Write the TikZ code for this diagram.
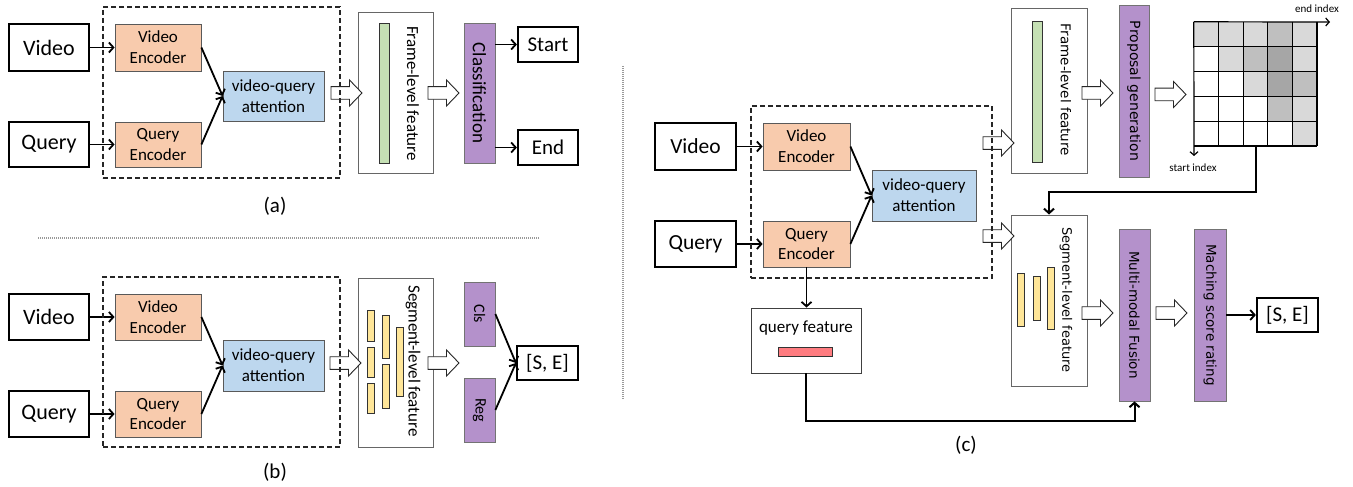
\documentclass[tikz,border=0pt]{standalone}
\usepackage{fontspec}
\setmainfont{Carlito}
\newfontfamily\dvsans{DejaVu Sans}
\usetikzlibrary{arrows.meta}
\definecolor{encfill}{HTML}{F8CBAD}
\definecolor{attfill}{HTML}{BDD7EE}
\definecolor{purpfill}{HTML}{B491CB}
\definecolor{greenfill}{HTML}{C5E0B4}
\definecolor{yellowfill}{HTML}{FFE699}
\definecolor{redfill}{HTML}{FF7C80}
\definecolor{gl}{HTML}{D9D9D9}
\definecolor{gm}{HTML}{BFBFBF}
\definecolor{gd}{HTML}{A6A6A6}
\tikzset{
  tbox/.style={draw=black, line width=2.2pt, fill=white, inner sep=0pt, font=\fontsize{22}{26}\selectfont},
  enc/.style={draw=black!65, line width=0.8pt, fill=encfill, inner sep=0pt, align=center, font=\fontsize{17}{20.7}\selectfont},
  att/.style={enc, fill=attfill},
  purp/.style={draw=black!55, line width=0.8pt, fill=purpfill, inner sep=0pt},
  feat/.style={draw=black!60, line width=1pt, fill=white, inner sep=0pt},
  bar/.style={draw=black!80, line width=0.7pt, inner sep=0pt},
  arr/.style={-{Straight Barb[length=4.5pt,width=10pt]}, line width=1.8pt},
  thinarr/.style={-{Straight Barb[length=3.5pt,width=8pt]}, line width=1.2pt},
  dbox/.style={draw=black!85, line width=1.4pt, dash pattern=on 5pt off 3pt, inner sep=0pt},
  lab/.style={font=\fontsize{21}{25}\selectfont},
  rot/.style={rotate=-90, inner sep=0pt, font=\fontsize{17}{20}\selectfont},
  rotc/.style={rotate=-90, inner sep=0pt, font=\dvsans\fontsize{13.5}{16}\selectfont},
  sep/.style={draw=black!40, line width=1.2pt, dash pattern=on 1pt off 1pt},
  harrow/.pic={\draw[fill=white, line width=0.9pt, draw=black!85] (0,-6.3) -- (18.5,-6.3) -- (18.5,-13) -- (31,0) -- (18.5,13) -- (18.5,6.3) -- (0,6.3) -- cycle;}
}
\begin{document}
\begin{tikzpicture}[x=1pt,y=-1pt]
\useasboundingbox (0,0) rectangle (1353,487);
\fill[white] (0,0) rectangle (1353,487);

% ---------- separators
\coordinate (h1) at (38,238);
\coordinate (h2) at (540,238);
\coordinate (v1) at (623,66);
\coordinate (v2) at (623,400);
\draw[sep] (h1) -- (h2);
\draw[sep] (v1) -- (v2);

% ---------- panel (a)
\node[tbox, minimum width=80, minimum height=47] (va) at (49,47.5) {Video};
\node[tbox, minimum width=80, minimum height=45] (qa) at (49,144.5) {Query};
\node[enc, minimum width=86, minimum height=47] (vea) at (158,47.5) {Video\\Encoder};
\node[enc, minimum width=86, minimum height=45] (qea) at (158,144.5) {Query\\Encoder};
\node[att, minimum width=101, minimum height=50] (ata) at (273.5,96) {video-query\\attention};
\node[feat, minimum width=75, minimum height=160] (fa) at (395.5,93) {};
\node[bar, fill=greenfill, minimum width=10, minimum height=140] (ga) at (384,93) {};
\node[rot] (fat) at (413,93.5) {Frame-level feature};
\node[purp, minimum width=31, minimum height=140] (ca) at (479.5,93) {};
\node[rot, font=\fontsize{19}{22}\selectfont] (cat) at (ca) {Classification};
\node[tbox, font=\fontsize{21}{25}\selectfont, minimum width=60, minimum height=35] (sa) at (548,44.5) {Start};
\node[tbox, font=\fontsize{21}{25}\selectfont, minimum width=60, minimum height=35] (ea) at (548,147.5) {End};
\draw[arr] (va.east) -- (vea.west);
\draw[arr] (qa.east) -- (qea.west);
\draw[arr] (vea.east) -- (ata.west);
\draw[arr] (qea.east) -- (ata.west);
\draw[arr] (sa.west -| ca.east) -- (sa.west);
\draw[arr] (ea.west -| ca.east) -- (ea.west);
\pic at (331,93) {harrow};
\pic at (428,93) {harrow};
\node[dbox, minimum width=237, minimum height=171] (da) at (221.5,92.5) {};
\node[lab] (la) at (275,206) {(a)};

% ---------- panel (b)
\node[tbox, minimum width=80, minimum height=46] (vb) at (49,317) {Video};
\node[tbox, minimum width=80, minimum height=46] (qb) at (49,414) {Query};
\node[enc, minimum width=86, minimum height=46] (veb) at (158,317) {Video\\Encoder};
\node[enc, minimum width=86, minimum height=46] (qeb) at (158,414) {Query\\Encoder};
\node[att, minimum width=101, minimum height=51] (atb) at (273.5,365.5) {video-query\\attention};
\node[feat, minimum width=75, minimum height=169] (sb) at (395.5,362.5) {};
\node[bar, fill=yellowfill, minimum width=7, minimum height=31] (yb1) at (371,325.5) {};
\node[bar, fill=yellowfill, minimum width=7, minimum height=30] (yb2) at (371,362) {};
\node[bar, fill=yellowfill, minimum width=7, minimum height=30] (yb3) at (371,398) {};
\node[bar, fill=yellowfill, minimum width=7, minimum height=43] (yb4) at (385.5,336.5) {};
\node[bar, fill=yellowfill, minimum width=7, minimum height=44] (yb5) at (385.5,386) {};
\node[bar, fill=yellowfill, minimum width=7, minimum height=69] (yb6) at (399.5,361.5) {};
\node[rot] (sbt) at (413,361) {Segment-level feature};
\node[purp, minimum width=31, minimum height=64] (clsb) at (479.5,314) {};
\node[rot, font=\fontsize{16}{19}\selectfont] (clst) at (clsb) {Cls};
\node[purp, minimum width=31, minimum height=64] (regb) at (479.5,410) {};
\node[rot, font=\fontsize{16}{19}\selectfont] (regt) at (regb) {Reg};
\node[tbox, font=\fontsize{21}{25}\selectfont, minimum width=61, minimum height=34] (seb) at (547.5,363) {[S, E]};
\draw[arr] (vb.east) -- (veb.west);
\draw[arr] (qb.east) -- (qeb.west);
\draw[arr] (veb.east) -- (atb.west);
\draw[arr] (qeb.east) -- (atb.west);
\draw[arr] (clsb.east) -- (seb.west);
\draw[arr] (regb.east) -- (seb.west);
\pic at (330,363) {harrow};
\pic at (428,363) {harrow};
\node[dbox, minimum width=237, minimum height=170] (db) at (221.5,362) {};
\node[lab] (lb) at (275,472) {(b)};

% ---------- panel (c)
\node[tbox, font=\fontsize{21.5}{25}\selectfont, minimum width=81, minimum height=47] (vc) at (695.5,146.5) {Video};
\node[tbox, font=\fontsize{21.5}{25}\selectfont, minimum width=81, minimum height=46] (qc) at (695.5,244) {Query};
\node[enc, minimum width=87, minimum height=47] (vec) at (806.5,146.5) {Video\\Encoder};
\node[enc, minimum width=87, minimum height=46] (qec) at (806.5,244) {Query\\Encoder};
\node[att, minimum width=104, minimum height=51] (atc) at (924,195.5) {video-query\\attention};
\node[feat, line width=0.9pt, draw=black!75, minimum width=110, minimum height=65] (qf) at (806,340.5) {};
\node[font=\fontsize{17}{20}\selectfont] (qft) at (806,328) {query feature};
\node[bar, fill=redfill, minimum width=54, minimum height=9] (rb) at (805,351.5) {};

\node[feat, minimum width=76, minimum height=164] (flc) at (1049,91) {};
\node[bar, fill=greenfill, minimum width=10, minimum height=141] (gc) at (1037,91.5) {};
\node[rotc] (flct) at (1066,90) {Frame-level feature};
\node[purp, minimum width=30, minimum height=172] (pg) at (1134,91) {};
\node[rotc, font=\dvsans\fontsize{14}{16}\selectfont] (pgt) at (pg) {Proposal generation};

% grid
\node[inner sep=0pt, minimum width=123, minimum height=124] (grid) at (1255.5,84) {};
\foreach \r/\c in {0/0,0/1,0/2,0/4,1/1,1/4,2/2,3/4,4/4}
  \fill[gl] ({1194+\c*24.6},{22+\r*24.8}) rectangle ++(24.6,24.8);
\foreach \r/\c in {0/3,1/2,2/4,3/3}
  \fill[gm] ({1194+\c*24.6},{22+\r*24.8}) rectangle ++(24.6,24.8);
\foreach \r/\c in {1/3,2/3}
  \fill[gd] ({1194+\c*24.6},{22+\r*24.8}) rectangle ++(24.6,24.8);
\foreach \i in {1,...,5} {
  \draw[line width=1.3pt] ({1194+\i*24.6},22) -- ({1194+\i*24.6},146);
  \draw[line width=1.3pt] (1194,{22+\i*24.8}) -- (1317,{22+\i*24.8});
}
\coordinate (endi) at (1330,22);
\coordinate (starti) at (1194,156);
\draw[thinarr] (grid.north west) -- (endi);
\draw[thinarr] (grid.north west) -- (starti);
\node[font=\fontsize{11}{13}\selectfont] (endt) at (1317,9) {end index};
\node[font=\fontsize{11}{13}\selectfont] (startt) at (1193,168) {start index};

\node[feat, minimum width=76, minimum height=171] (segc) at (1049,300.5) {};
\node[bar, fill=yellowfill, minimum width=7, minimum height=53] (yc1) at (1020.5,299.5) {};
\node[bar, fill=yellowfill, minimum width=7, minimum height=44] (yc2) at (1036.5,298) {};
\node[bar, fill=yellowfill, minimum width=7, minimum height=62] (yc3) at (1050.5,298) {};
\node[rotc, font=\dvsans\fontsize{13}{16}\selectfont] (segct) at (1066,300) {Segment-level feature};
\node[purp, minimum width=31, minimum height=172] (mmf) at (1134.5,315) {};
\node[rotc] (mmft) at (mmf) {Multi-modal Fusion};
\node[purp, minimum width=32, minimum height=172] (msr) at (1210,315) {};
\node[rotc] (msrt) at (msr) {Maching score rating};
\node[tbox, font=\fontsize{21}{25}\selectfont, minimum width=61, minimum height=34] (sec) at (1287.5,315) {[S, E]};

\coordinate (turn) at (1256,192);
\coordinate (bot) at (808,421);
\draw[arr] (vc.east) -- (vec.west);
\draw[arr] (qc.east) -- (qec.west);
\draw[arr] (vec.east) -- (atc.west);
\draw[arr] (qec.east) -- (atc.west);
\draw[arr] (qec.south) -- (qec.south |- qf.north);
\draw[arr, line width=2pt] (grid.south |- grid.south) -- (grid.south |- turn) -| (segc.north);
\draw[arr, line width=2pt] (qf.south) -- (qf.south |- bot) -| (mmf.south);
\draw[arr] (msr.east) -- (sec.west);

\pic at (983,143) {harrow};
\pic at (983,236) {harrow};
\pic at (1082,93) {harrow};
\pic at (1155,94.5) {harrow};
\pic at (1082,313) {harrow};
\pic at (1156,313) {harrow};
\node[dbox, minimum width=241, minimum height=172] (dc) at (871.5,192) {};
\node[lab] (lc) at (966,445) {(c)};
\end{tikzpicture}
\end{document}
